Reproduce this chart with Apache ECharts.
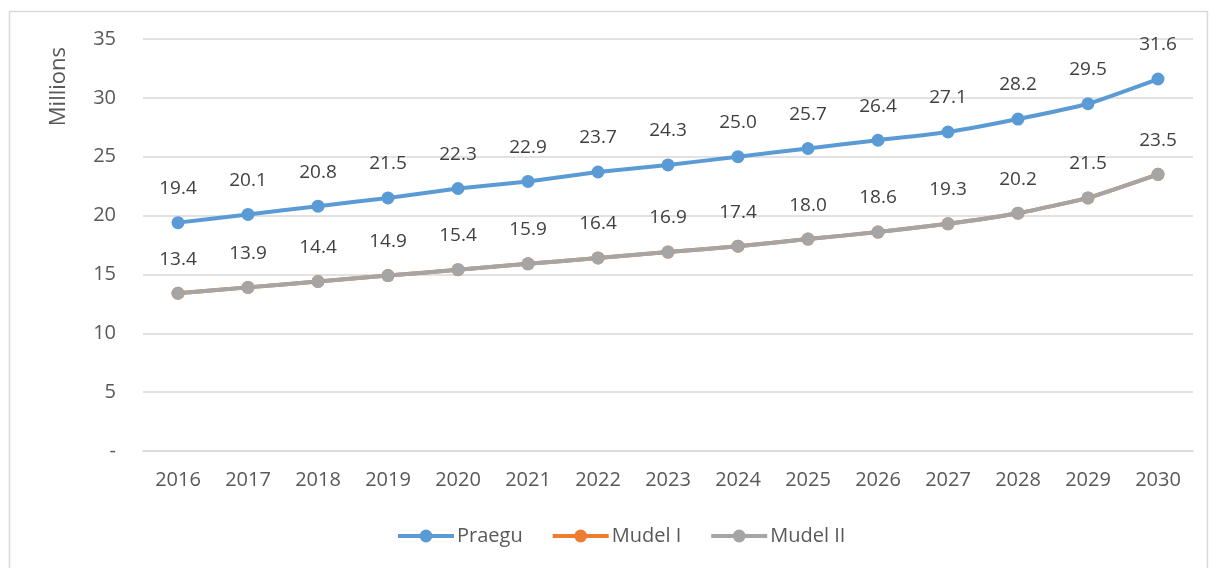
<!DOCTYPE html>
<html>
<head>
<meta charset="utf-8">
<script src="https://cdn.jsdelivr.net/npm/echarts@6/dist/echarts.min.js"></script>
<style>
  html, body { margin: 0; padding: 0; background: #fff; }
  #main { width: 1213px; height: 568px; }
</style>
</head>
<body>
<div id="main"></div>
<script>
const years = ['2016', '2017', '2018', '2019', '2020', '2021', '2022', '2023', '2024', '2025', '2026', '2027', '2028', '2029', '2030'];
const praegu = [19.4, 20.1, 20.8, 21.5, 22.3, 22.9, 23.7, 24.3, 25.0, 25.7, 26.4, 27.1, 28.2, 29.5, 31.6];
const mudel1 = [13.4, 13.9, 14.4, 14.9, 15.4, 15.9, 16.4, 16.9, 17.4, 18.0, 18.6, 19.3, 20.2, 21.5, 23.5];
const mudel2 = [13.4, 13.9, 14.4, 14.9, 15.4, 15.9, 16.4, 16.9, 17.4, 18.0, 18.6, 19.3, 20.2, 21.5, 23.5];

const font = '"Open Sans", "Noto Sans", sans-serif';

function line(name, data, color, showLabel) {
  return {
    name: name,
    type: 'line',
    data: data,
    smooth: 0.15,
    symbol: 'circle',
    symbolSize: 13,
    lineStyle: { width: 4, color: color },
    itemStyle: { color: color },
    label: {
      show: showLabel,
      position: 'top',
      distance: 18,
      color: '#404040',
      fontSize: 19,
      fontFamily: font,
      formatter: p => p.value.toFixed(1)
    }
  };
}

const chart = echarts.init(document.getElementById('main'));
chart.setOption({
  animation: false,
  textStyle: { fontFamily: font },
  grid: { left: 143, right: 20, top: 39, bottom: 117 },
  graphic: [
    {
      type: 'rect',
      left: 7, top: 9,
      shape: { width: 1198, height: 580 },
      style: { fill: 'none', stroke: '#d9d9d9', lineWidth: 1.5 }
    },
    {
      type: 'text',
      left: 48, top: 47,
      rotation: Math.PI / 2,
      style: { text: 'Millions', fill: '#595959', font: '22px ' + font }
    }
  ],
  legend: {
    bottom: 17,
    left: 391,
    itemWidth: 56,
    itemHeight: 16,
    itemGap: 28,
    lineStyle: { width: 4 },
    textStyle: { color: '#595959', fontSize: 20, fontFamily: font, padding: [0, 0, 0, -2] },
    data: ['Praegu', 'Mudel I', 'Mudel II']
  },
  xAxis: {
    type: 'category',
    data: years,
    boundaryGap: true,
    axisLine: { lineStyle: { color: '#d9d9d9', width: 1.5 } },
    axisTick: { show: false },
    axisLabel: { color: '#595959', fontSize: 20, margin: 19, fontFamily: font }
  },
  yAxis: {
    type: 'value',
    min: 0, max: 35, interval: 5,
    axisLine: { show: false },
    axisTick: { show: false },
    splitLine: { lineStyle: { color: '#d9d9d9', width: 1.5 } },
    axisLabel: {
      color: '#595959', fontSize: 20, margin: 27, fontFamily: font,
      formatter: v => v === 0 ? '-' : String(v)
    }
  },
  series: [
    line('Praegu', praegu, '#5b9bd5', true),
    line('Mudel I', mudel1, '#ed7d31', false),
    line('Mudel II', mudel2, '#a5a5a5', true)
  ]
});
</script>
</body>
</html>
